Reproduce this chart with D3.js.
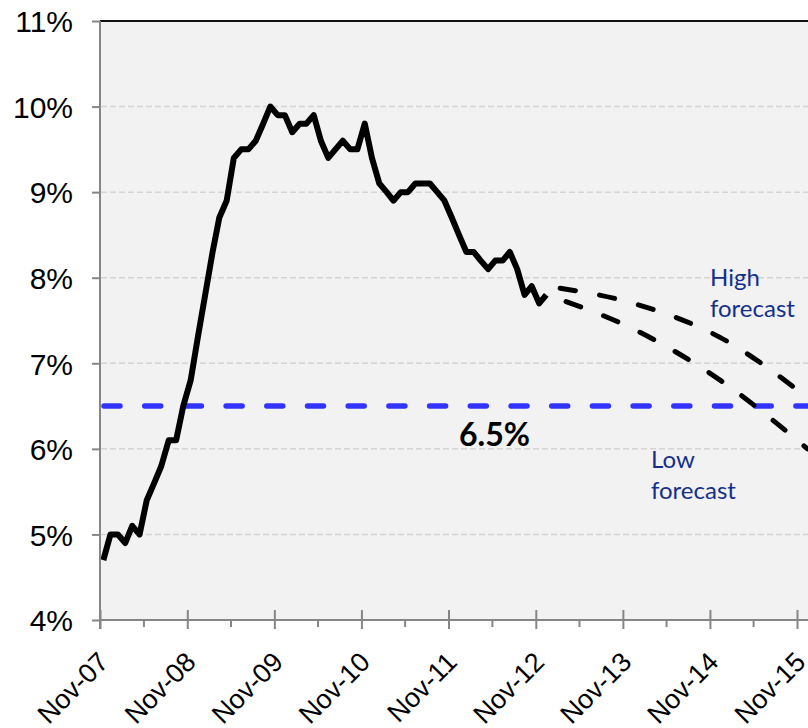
<!DOCTYPE html>
<html>
<head>
<meta charset="utf-8">
<script src="https://cdn.jsdelivr.net/npm/d3@7"></script>
<style>
html,body{margin:0;padding:0;background:#fff;}
svg{display:block;}
</style>
</head>
<body>
<svg id="chart" width="808" height="728"></svg>
<script>
// ---- data ----
const actualStart = "2007-11";   // first month of the actual series
const actualValues = [4.7,5.0,5.0,4.9,5.1,5.0,5.4,5.6,5.8,6.1,6.1,6.5,
  6.8,7.3,7.8,8.3,8.7,8.9,9.4,9.5,9.5,9.6,9.8,10.0,
  9.9,9.9,9.7,9.8,9.8,9.9,9.6,9.4,9.5,9.6,9.5,9.5,
  9.8,9.4,9.1,9.0,8.9,9.0,9.0,9.1,9.1,9.1,9.0,8.9,
  8.7,8.5,8.3,8.3,8.2,8.1,8.2,8.2,8.3,8.1,7.8,7.9,
  7.7,7.8];
const forecastMonths = ["2012-12","2013-12","2014-12","2015-12"];
const highForecast = [7.9,7.7,7.3,6.6];
const lowForecast  = [7.8,7.4,6.8,6.0];
const targetRate = 6.5;
const xTickLabels = ["Nov-07","Nov-08","Nov-09","Nov-10","Nov-11","Nov-12","Nov-13","Nov-14","Nov-15"];
const yTicks = [4,5,6,7,8,9,10,11];

// ---- scales ----
const parseLabel = d3.timeParse("%b-%y");
const parseMonth = d3.timeParse("%Y-%m");
const mid = d => d3.timeDay.offset(d, 14);
const xTickDates = xTickLabels.map(parseLabel);
const minorTickDates = xTickDates.slice(0, -1).map(d => d3.timeMonth.offset(d, 6));

const x = d3.scaleTime()
  .domain([xTickDates[0], xTickDates[xTickDates.length - 1]])
  .range([100, 797]);
const y = d3.scaleLinear().domain([4, 11]).range([620, 21]);

const svg = d3.select("#chart");
const plotRight = 840;

svg.append("defs").append("clipPath").attr("id", "clip")
  .append("rect").attr("x", 100).attr("y", 21).attr("width", plotRight - 100).attr("height", 599);

// background
svg.append("rect").attr("x", 100).attr("y", 21).attr("width", plotRight - 100).attr("height", 599)
  .attr("fill", "#f2f2f2");
// top border
svg.append("line").attr("x1", 100).attr("x2", plotRight).attr("y1", 21).attr("y2", 21)
  .attr("stroke", "#111").attr("stroke-width", 2);

// gridlines
svg.append("g").selectAll("line").data(yTicks.filter(d => d > 4 && d < 11)).join("line")
  .attr("x1", 101).attr("x2", plotRight)
  .attr("y1", d => y(d)).attr("y2", d => y(d))
  .attr("stroke", "#d4d4d4").attr("stroke-width", 1.5).attr("stroke-dasharray", "6,3");

const g = svg.append("g").attr("clip-path", "url(#clip)");

// 6.5% target line
g.append("line").attr("x1", x.range()[0]).attr("x2", plotRight)
  .attr("y1", y(targetRate)).attr("y2", y(targetRate))
  .attr("stroke", "#3333ff").attr("stroke-width", 5.5)
  .attr("stroke-linecap", "round")
  .attr("stroke-dasharray", "16,24.7").attr("stroke-dashoffset", -4);

// actual series
const startDate = parseMonth(actualStart);
const actual = actualValues.map((v, i) => ({date: mid(d3.timeMonth.offset(startDate, i)), v}));
const line = d3.line().x(d => x(d.date)).y(d => y(d.v));
g.append("path").datum(actual).attr("d", line)
  .attr("fill", "none").attr("stroke", "#000").attr("stroke-width", 6)
  .attr("stroke-linejoin", "round").attr("stroke-linecap", "butt");

// forecasts
const fLine = d3.line().x(d => x(d.date)).y(d => y(d.v)).curve(d3.curveMonotoneX);
const mkF = arr => arr.map((v, i) => ({date: mid(parseMonth(forecastMonths[i])), v}));
[[highForecast, 26], [lowForecast, 19]].forEach(([arr, off]) => {
  g.append("path").datum(mkF(arr)).attr("d", fLine)
    .attr("fill", "none").attr("stroke", "#000").attr("stroke-width", 5)
    .attr("stroke-linecap", "round")
    .attr("stroke-dasharray", "15.5,24.5").attr("stroke-dashoffset", off);
});

// annotations
svg.append("text").attr("x", 459).attr("y", 446)
  .attr("font-family", "Lato, 'Open Sans', sans-serif").attr("font-weight", "bold")
  .attr("font-size", 32).attr("fill", "#000").text(targetRate + "%");

const annot = (x0, y0, lines) => {
  const t = svg.append("text").attr("font-family", "Lato, 'Open Sans', sans-serif")
    .attr("font-size", 24).attr("fill", "#14308c");
  lines.forEach((s, i) => t.append("tspan").attr("x", x0).attr("y", y0 + i * 31).text(s));
};
annot(710, 286, ["High", "forecast"]);
annot(651, 468, ["Low", "forecast"]);

// y axis
const yAxis = svg.append("g").attr("transform", "translate(100,0)")
  .call(d3.axisLeft(y).tickValues(yTicks).tickFormat(d => d + "%").tickSize(8).tickPadding(0));
yAxis.select(".domain").attr("stroke", "#868686").attr("stroke-width", 2)
  .attr("d", "M0,21V629");
yAxis.selectAll(".tick line").attr("stroke", "#868686").attr("stroke-width", 2);
yAxis.selectAll(".tick text").attr("x", -27).attr("dy", "0.36em")
  .attr("font-family", "'Liberation Sans', Arial, sans-serif").attr("font-size", 30).attr("fill", "#000");

// x axis minor ticks
const xMinor = svg.append("g").attr("transform", "translate(0,620)")
  .call(d3.axisBottom(x).tickValues(minorTickDates).tickSize(7).tickFormat(""));
xMinor.select(".domain").remove();
xMinor.selectAll(".tick line").attr("stroke", "#868686").attr("stroke-width", 2);

// x axis major
const xAxis = svg.append("g").attr("transform", "translate(0,620)")
  .call(d3.axisBottom(x).tickValues(xTickDates).tickFormat((d, i) => xTickLabels[i]).tickSize(9));
xAxis.select(".domain").attr("stroke", "#868686").attr("stroke-width", 2)
  .attr("d", `M100,0H${plotRight}`);
xAxis.selectAll(".tick line").attr("stroke", "#868686").attr("stroke-width", 2)
  .attr("y1", -10).attr("y2", 9);
xAxis.selectAll(".tick text")
  .attr("font-family", "'Liberation Sans', Arial, sans-serif").attr("font-size", 27).attr("fill", "#000")
  .attr("text-anchor", "end").attr("y", 0).attr("dy", "0.35em")
  .attr("transform", "translate(3,37) rotate(-45)");
</script>
</body>
</html>
